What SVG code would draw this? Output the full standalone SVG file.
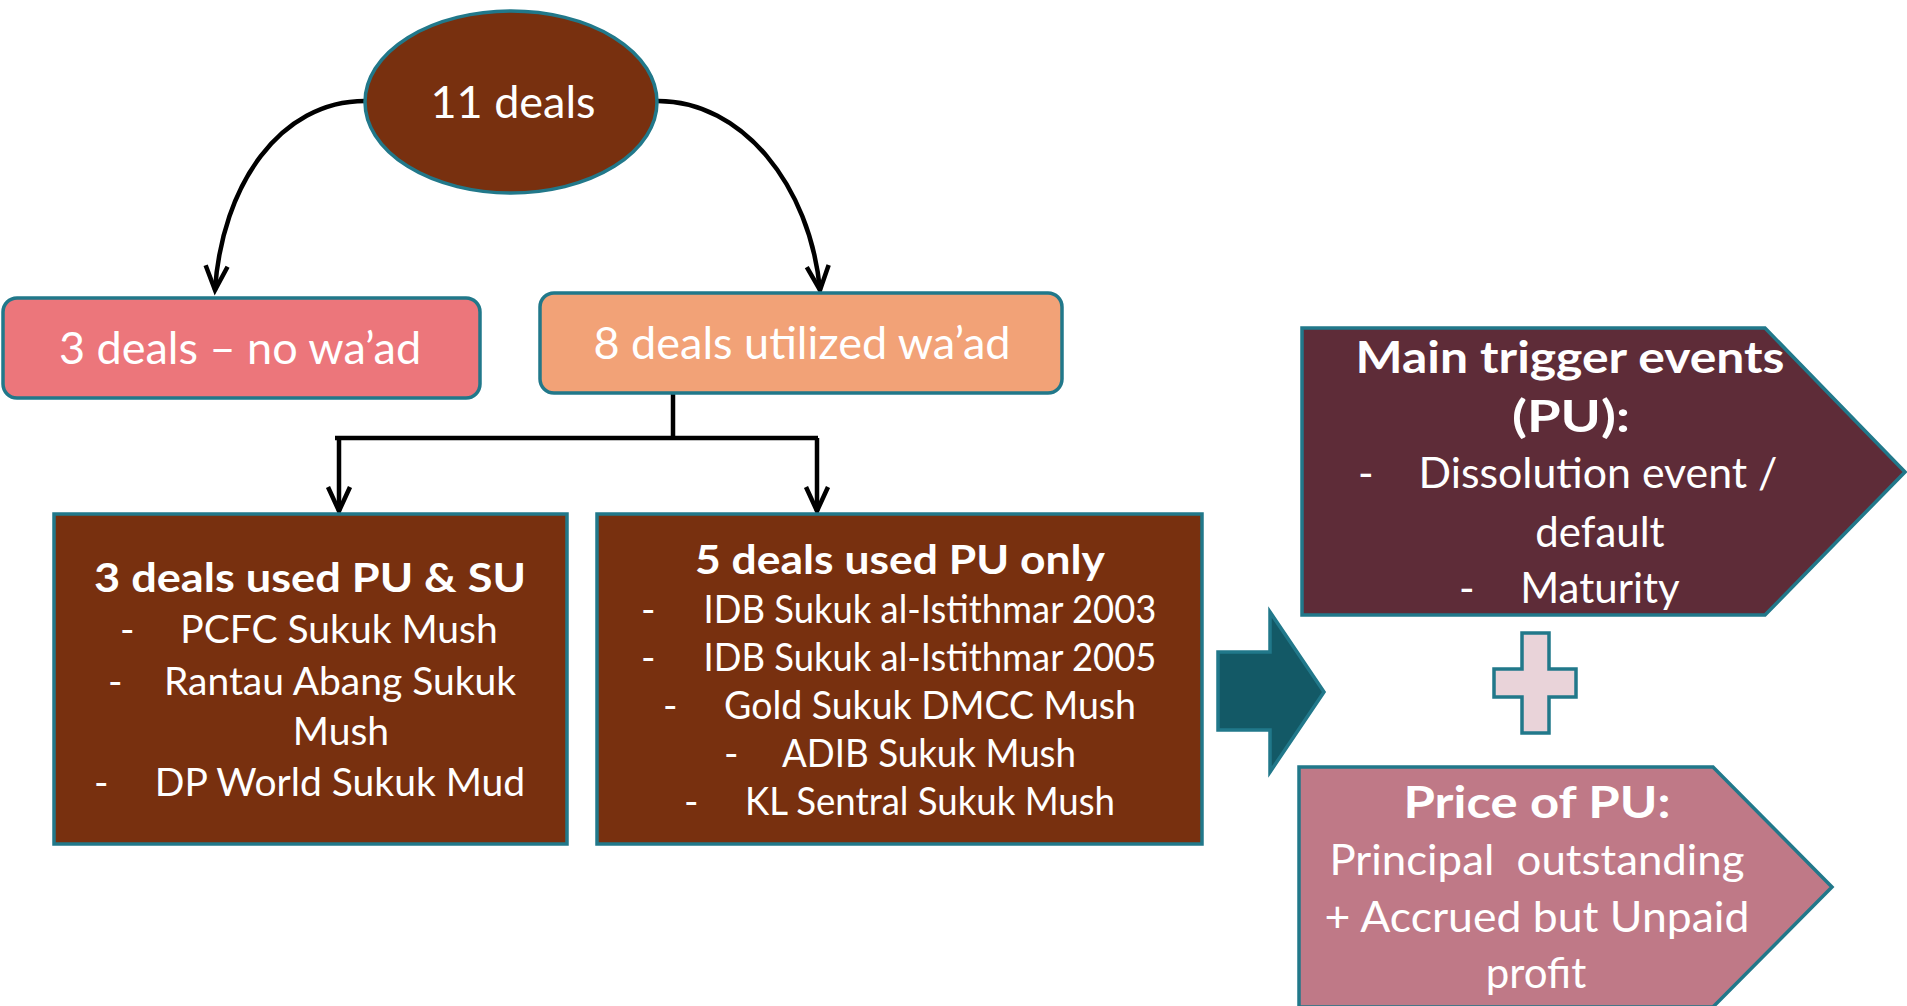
<svg xmlns="http://www.w3.org/2000/svg" width="1907" height="1006" viewBox="0 0 1907 1006">
<defs>
<marker id="ah" markerUnits="userSpaceOnUse" markerWidth="40" markerHeight="40" refX="0" refY="0" viewBox="-20 -30 40 40" orient="auto-start-reverse" overflow="visible">
<path d="M-24,-11 L0,0 L-24,11" fill="none" stroke="#000" stroke-width="4.5" stroke-linejoin="miter"/>
</marker>
<style>
text{font-family:Lato,"Open Sans","Liberation Sans",sans-serif;fill:#fff}
.t45{font-size:45px}
.r39{font-size:39px}
.b40{font-size:40px;font-weight:bold}
.r42{font-size:42px}
.b44{font-size:44px;font-weight:bold}
.mid{text-anchor:middle}
.edge{stroke:#21788A;stroke-width:3.5}
.conn{fill:none;stroke:#000;stroke-width:4.5}
</style>
</defs>
<rect width="1907" height="1006" fill="#fff"/>
<g id="connectors">
<path class="conn" d="M365,101 C280,101 222,185 215,290" marker-end="url(#ah)"/>
<path class="conn" d="M658,101 C742,101 810,185 820,290" marker-end="url(#ah)"/>
<path class="conn" d="M673,393 L673,438"/>
<path class="conn" d="M335,438 L818,438" stroke-width="5.5"/>
<path class="conn" d="M339,438 L339,511" marker-end="url(#ah)"/>
<path class="conn" d="M817,438 L817,511" marker-end="url(#ah)"/>
</g>
<g id="n-11deals">
<ellipse cx="511" cy="102" rx="146" ry="91" fill="#78300F" class="edge"/>
<text class="t45 mid" x="513" y="118">11 deals</text>
</g>
<g id="n-nowaad">
<rect x="3" y="298" width="477" height="100" rx="14" fill="#EC767B" class="edge"/>
<text class="t45 mid" x="240" y="364">3 deals – no wa’ad</text>
</g>
<g id="n-utilized">
<rect x="540" y="293" width="522" height="100" rx="14" fill="#F2A277" class="edge"/>
<text class="t45 mid" x="802" y="359">8 deals utilized wa’ad</text>
</g>
<g id="n-pusu">
<rect x="54" y="514" width="513" height="330" fill="#78300F" class="edge"/>
<text class="b40 mid" x="310" y="592" textLength="432" lengthAdjust="spacingAndGlyphs">3 deals used PU &amp; SU</text>
<text class="r39" x="120" y="643">-</text><text class="r39 mid" x="339" y="643">PCFC Sukuk Mush</text>
<text class="r39" x="108" y="695">-</text><text class="r39 mid" x="340" y="695">Rantau Abang Sukuk</text>
<text class="r39 mid" x="341" y="745">Mush</text>
<text class="r39" x="94" y="796">-</text><text class="r39 mid" x="340" y="796">DP World Sukuk Mud</text>
</g>
<g id="n-puonly">
<rect x="597" y="514" width="605" height="330" fill="#78300F" class="edge"/>
<text class="b40 mid" x="900" y="574" textLength="410" lengthAdjust="spacingAndGlyphs">5 deals used PU only</text>
<text class="r39" x="641" y="623">-</text><text class="r39 mid" x="930" y="623" textLength="453" lengthAdjust="spacingAndGlyphs">IDB Sukuk al-Istithmar 2003</text>
<text class="r39" x="641" y="671">-</text><text class="r39 mid" x="930" y="671" textLength="453" lengthAdjust="spacingAndGlyphs">IDB Sukuk al-Istithmar 2005</text>
<text class="r39" x="663" y="719">-</text><text class="r39 mid" x="930" y="719" textLength="412" lengthAdjust="spacingAndGlyphs">Gold Sukuk DMCC Mush</text>
<text class="r39" x="724" y="767">-</text><text class="r39 mid" x="929" y="767" textLength="294" lengthAdjust="spacingAndGlyphs">ADIB Sukuk Mush</text>
<text class="r39" x="684" y="815">-</text><text class="r39 mid" x="930" y="815" textLength="370" lengthAdjust="spacingAndGlyphs">KL Sentral Sukuk Mush</text>
</g>
<g id="n-arrow">
<path d="M1218,652 L1270,652 L1270,612 L1324,692 L1270,772 L1270,730 L1218,730 Z" fill="#135966" class="edge"/>
</g>
<g id="n-trigger">
<path d="M1302,328 L1765,328 L1905,472 L1765,615 L1302,615 Z" fill="#5E2C38" class="edge"/>
<text class="b44 mid" x="1570" y="373" textLength="429" lengthAdjust="spacingAndGlyphs">Main trigger events</text>
<text class="b44 mid" x="1571" y="432" textLength="118" lengthAdjust="spacingAndGlyphs">(PU):</text>
<text class="r42" x="1358" y="488">-</text><text class="r42 mid" x="1598" y="488" textLength="359" lengthAdjust="spacingAndGlyphs">Dissolution event /</text>
<text class="r42 mid" x="1600" y="547">default</text>
<text class="r42" x="1459" y="603">-</text><text class="r42 mid" x="1600" y="603">Maturity</text>
</g>
<g id="n-plus">
<path d="M1522,633 L1549,633 L1549,669 L1576,669 L1576,697 L1549,697 L1549,733 L1522,733 L1522,697 L1494,697 L1494,669 L1522,669 Z" fill="#E9D3D9" class="edge"/>
</g>
<g id="n-price">
<path d="M1299,767 L1713,767 L1832,887 L1713,1007 L1299,1007 Z" fill="#BF7987" class="edge"/>
<text class="b44 mid" x="1537" y="818" textLength="267" lengthAdjust="spacingAndGlyphs">Price of PU:</text>
<text class="r42 mid" x="1537" y="875" xml:space="preserve" textLength="415" lengthAdjust="spacingAndGlyphs">Principal  outstanding</text>
<text class="r42 mid" x="1537" y="932" textLength="425" lengthAdjust="spacingAndGlyphs">+ Accrued but Unpaid</text>
<text class="r42 mid" x="1536" y="988">profit</text>
</g>
</svg>
